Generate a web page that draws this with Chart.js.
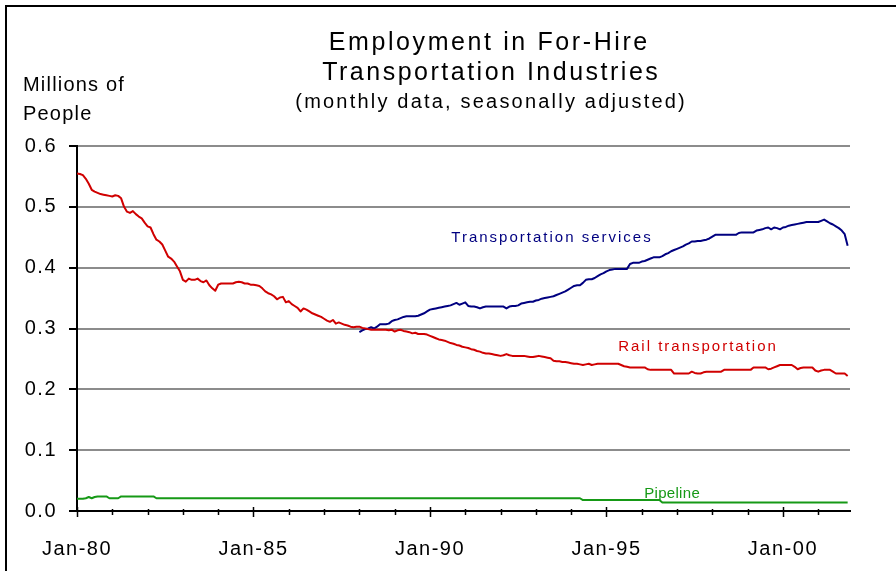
<!DOCTYPE html>
<html>
<head>
<meta charset="utf-8">
<script src="https://cdn.jsdelivr.net/npm/chart.js@4.4.1/dist/chart.umd.min.js"></script>
<style>
  html, body { margin: 0; padding: 0; background: #fff; }
  #wrap { width: 896px; height: 571px; position: relative; }
</style>
</head>
<body>
<div id="wrap"><canvas id="employmentChart" width="896" height="571"></canvas></div>
<script>
// Monthly employment, millions of people. Month 0 = Jan-80.
const xTickLabels = ['Jan-80', 'Jan-85', 'Jan-90', 'Jan-95', 'Jan-00'];
const yTickValues = [0, 0.1, 0.2, 0.3, 0.4, 0.5, 0.6];
const seriesNames = ['Transportation services', 'Rail transportation', 'Pipeline'];

const railMonthly = [
    0.555, 0.554, 0.552, 0.546, 0.538, 0.528, 0.525, 0.523, 0.521, 0.520, 0.519, 0.518, // 1980
    0.517, 0.519, 0.518, 0.514, 0.500, 0.492, 0.490, 0.493, 0.488, 0.484, 0.481, 0.474, // 1981
    0.468, 0.466, 0.455, 0.446, 0.443, 0.438, 0.428, 0.418, 0.415, 0.410, 0.402, 0.394, // 1982
    0.380, 0.377, 0.382, 0.380, 0.380, 0.382, 0.378, 0.376, 0.379, 0.371, 0.366, 0.362, // 1983
    0.372, 0.374, 0.374, 0.374, 0.374, 0.374, 0.376, 0.377, 0.376, 0.374, 0.374, 0.372, // 1984
    0.372, 0.371, 0.370, 0.366, 0.361, 0.358, 0.356, 0.353, 0.348, 0.351, 0.352, 0.343, // 1985
    0.345, 0.340, 0.337, 0.334, 0.328, 0.333, 0.331, 0.328, 0.325, 0.323, 0.321, 0.319, // 1986
    0.316, 0.313, 0.311, 0.314, 0.308, 0.310, 0.308, 0.306, 0.305, 0.303, 0.302, 0.303, // 1987
    0.303, 0.301, 0.300, 0.299, 0.298, 0.298, 0.298, 0.298, 0.298, 0.298, 0.297, 0.298, // 1988
    0.295, 0.297, 0.298, 0.296, 0.295, 0.294, 0.292, 0.293, 0.291, 0.291, 0.291, 0.290, // 1989
    0.288, 0.286, 0.284, 0.282, 0.281, 0.280, 0.278, 0.276, 0.275, 0.273, 0.272, 0.270, // 1990
    0.269, 0.268, 0.266, 0.265, 0.263, 0.262, 0.260, 0.259, 0.259, 0.258, 0.257, 0.256, // 1991
    0.255, 0.256, 0.258, 0.256, 0.255, 0.255, 0.255, 0.255, 0.255, 0.254, 0.253, 0.253, // 1992
    0.254, 0.255, 0.254, 0.253, 0.252, 0.251, 0.247, 0.246, 0.246, 0.245, 0.245, 0.244, // 1993
    0.243, 0.242, 0.242, 0.241, 0.240, 0.241, 0.242, 0.240, 0.241, 0.242, 0.242, 0.242, // 1994
    0.242, 0.242, 0.242, 0.242, 0.242, 0.240, 0.238, 0.237, 0.236, 0.236, 0.236, 0.236, // 1995
    0.236, 0.236, 0.233, 0.232, 0.232, 0.232, 0.232, 0.232, 0.232, 0.232, 0.232, 0.226, // 1996
    0.226, 0.226, 0.226, 0.226, 0.226, 0.229, 0.227, 0.226, 0.226, 0.228, 0.229, 0.229, // 1997
    0.229, 0.229, 0.229, 0.229, 0.232, 0.232, 0.232, 0.232, 0.232, 0.232, 0.232, 0.232, // 1998
    0.232, 0.232, 0.236, 0.236, 0.236, 0.236, 0.236, 0.233, 0.234, 0.236, 0.238, 0.240, // 1999
    0.240, 0.240, 0.240, 0.240, 0.237, 0.233, 0.235, 0.236, 0.236, 0.236, 0.236, 0.231, // 2000
    0.229, 0.231, 0.232, 0.232, 0.232, 0.229, 0.226, 0.226, 0.226, 0.226, 0.222         // 2001
];

// Transportation services series begins in Jan-88
const servicesStartMonth = 96;
const servicesMonthly = [
    0.294, 0.297, 0.299, 0.300, 0.302, 0.300, 0.303, 0.307, 0.307, 0.307, 0.308, 0.312, // 1988
    0.314, 0.315, 0.317, 0.319, 0.320, 0.320, 0.320, 0.320, 0.321, 0.323, 0.325, 0.328, // 1989
    0.331, 0.332, 0.333, 0.334, 0.335, 0.336, 0.337, 0.338, 0.340, 0.342, 0.339, 0.341, // 1990
    0.343, 0.337, 0.336, 0.336, 0.335, 0.333, 0.335, 0.336, 0.336, 0.336, 0.336, 0.336, // 1991
    0.336, 0.336, 0.333, 0.336, 0.337, 0.337, 0.338, 0.341, 0.342, 0.343, 0.344, 0.344, // 1992
    0.346, 0.347, 0.349, 0.350, 0.351, 0.352, 0.353, 0.355, 0.357, 0.359, 0.361, 0.364, // 1993
    0.367, 0.370, 0.371, 0.371, 0.375, 0.380, 0.381, 0.381, 0.383, 0.386, 0.389, 0.391, // 1994
    0.394, 0.396, 0.397, 0.398, 0.398, 0.398, 0.398, 0.398, 0.406, 0.408, 0.408, 0.408, // 1995
    0.410, 0.411, 0.413, 0.415, 0.417, 0.417, 0.417, 0.419, 0.422, 0.424, 0.427, 0.429, // 1996
    0.431, 0.433, 0.435, 0.438, 0.440, 0.443, 0.443, 0.444, 0.444, 0.445, 0.446, 0.448, // 1997
    0.451, 0.454, 0.454, 0.454, 0.454, 0.454, 0.454, 0.454, 0.454, 0.457, 0.458, 0.458, // 1998
    0.458, 0.458, 0.458, 0.461, 0.462, 0.463, 0.465, 0.466, 0.463, 0.466, 0.465, 0.463, // 1999
    0.466, 0.467, 0.469, 0.470, 0.471, 0.472, 0.473, 0.474, 0.475, 0.475, 0.475, 0.475, // 2000
    0.475, 0.477, 0.479, 0.476, 0.473, 0.471, 0.468, 0.465, 0.461, 0.455, 0.436         // 2001
];

const pipelineMonthly = [
    0.020, 0.020, 0.020, 0.021, 0.023, 0.021, 0.023, 0.024, 0.024, 0.024, 0.024, 0.021, // 1980
    0.021, 0.021, 0.021, 0.024, 0.024, 0.024, 0.024, 0.024, 0.024, 0.024, 0.024, 0.024, // 1981
    0.024, 0.024, 0.024, 0.021, 0.021, 0.021, 0.021, 0.021, 0.021, 0.021, 0.021, 0.021, // 1982
    0.021, 0.021, 0.021, 0.021, 0.021, 0.021, 0.021, 0.021, 0.021, 0.021, 0.021, 0.021, // 1983
    0.021, 0.021, 0.021, 0.021, 0.021, 0.021, 0.021, 0.021, 0.021, 0.021, 0.021, 0.021, // 1984
    0.021, 0.021, 0.021, 0.021, 0.021, 0.021, 0.021, 0.021, 0.021, 0.021, 0.021, 0.021, // 1985
    0.021, 0.021, 0.021, 0.021, 0.021, 0.021, 0.021, 0.021, 0.021, 0.021, 0.021, 0.021, // 1986
    0.021, 0.021, 0.021, 0.021, 0.021, 0.021, 0.021, 0.021, 0.021, 0.021, 0.021, 0.021, // 1987
    0.021, 0.021, 0.021, 0.021, 0.021, 0.021, 0.021, 0.021, 0.021, 0.021, 0.021, 0.021, // 1988
    0.021, 0.021, 0.021, 0.021, 0.021, 0.021, 0.021, 0.021, 0.021, 0.021, 0.021, 0.021, // 1989
    0.021, 0.021, 0.021, 0.021, 0.021, 0.021, 0.021, 0.021, 0.021, 0.021, 0.021, 0.021, // 1990
    0.021, 0.021, 0.021, 0.021, 0.021, 0.021, 0.021, 0.021, 0.021, 0.021, 0.021, 0.021, // 1991
    0.021, 0.021, 0.021, 0.021, 0.021, 0.021, 0.021, 0.021, 0.021, 0.021, 0.021, 0.021, // 1992
    0.021, 0.021, 0.021, 0.021, 0.021, 0.021, 0.021, 0.021, 0.021, 0.021, 0.021, 0.021, // 1993
    0.021, 0.021, 0.021, 0.021, 0.018, 0.018, 0.018, 0.018, 0.018, 0.018, 0.018, 0.018, // 1994
    0.018, 0.018, 0.018, 0.018, 0.018, 0.018, 0.018, 0.018, 0.018, 0.018, 0.018, 0.018, // 1995
    0.018, 0.018, 0.018, 0.018, 0.018, 0.018, 0.018, 0.014, 0.014, 0.014, 0.014, 0.014, // 1996
    0.014, 0.014, 0.014, 0.014, 0.014, 0.014, 0.014, 0.014, 0.014, 0.014, 0.014, 0.014, // 1997
    0.014, 0.014, 0.014, 0.014, 0.014, 0.014, 0.014, 0.014, 0.014, 0.014, 0.014, 0.014, // 1998
    0.014, 0.014, 0.014, 0.014, 0.014, 0.014, 0.014, 0.014, 0.014, 0.014, 0.014, 0.014, // 1999
    0.014, 0.014, 0.014, 0.014, 0.014, 0.014, 0.014, 0.014, 0.014, 0.014, 0.014, 0.014, // 2000
    0.014, 0.014, 0.014, 0.014, 0.014, 0.014, 0.014, 0.014, 0.014, 0.014, 0.014         // 2001
];

const FONT = "'Liberation Sans', Arial, sans-serif";
const RED = '#d00000';
const NAVY = '#000080';
const GREEN = '#169916';

function toPoints(values, start) {
    return values.map((v, i) => ({ x: start + i, y: v }));
}

function drawText(ctx, text, x, y, size, color, spacing, align) {
    ctx.save();
    ctx.font = size + 'px ' + FONT;
    ctx.fillStyle = color;
    ctx.letterSpacing = spacing + 'px';
    ctx.textBaseline = 'alphabetic';
    let w = ctx.measureText(text).width - spacing;
    let left = align === 'center' ? x - w / 2 : x;
    ctx.textAlign = 'left';
    ctx.fillText(text, left, y);
    ctx.restore();
}

// Frame, titles, series labels and the x axis tick marks
const decorPlugin = {
    id: 'decor',
    beforeDraw(chart) {
        chart.ctx.letterSpacing = '1.5px';
    },
    afterDraw(chart) {
        const ctx = chart.ctx;
        const xs = chart.scales.x;
        const ys = chart.scales.y;

        ctx.save();
        ctx.strokeStyle = '#000';
        ctx.lineWidth = 2;
        ctx.beginPath();
        ctx.moveTo(6, 600);
        ctx.lineTo(6, 6);
        ctx.lineTo(900, 6);
        ctx.stroke();

        // yearly ticks crossing the x axis, longer every five years
        const yAxis = ys.getPixelForValue(0);
        ctx.lineWidth = 1.5;
        for (let m = 0; m <= xs.max; m += 12) {
            const px = Math.round(xs.getPixelForValue(m)) + 0.5;
            const major = m % 60 === 0;
            ctx.beginPath();
            ctx.moveTo(px, yAxis - (major ? 4 : 2));
            ctx.lineTo(px, yAxis + (major ? 6 : 4));
            ctx.stroke();
        }
        ctx.restore();

        drawText(ctx, 'Employment in For-Hire', 488, 50, 25, '#000', 2.6, 'center');
        drawText(ctx, 'Transportation Industries', 490, 80, 25, '#000', 2.5, 'center');
        drawText(ctx, '(monthly data, seasonally adjusted)', 490, 108, 20, '#000', 2.2, 'center');
        drawText(ctx, 'Millions of', 23, 91, 20, '#000', 1.2, 'left');
        drawText(ctx, 'People', 23, 120, 20, '#000', 1.2, 'left');

        drawText(ctx, seriesNames[0], 551, 242, 15, NAVY, 2, 'center');
        drawText(ctx, seriesNames[1], 697, 351, 15, RED, 2, 'center');
        drawText(ctx, seriesNames[2], 672, 498, 15, GREEN, 0.3, 'center');
    }
};

const ctx = document.getElementById('employmentChart').getContext('2d');

new Chart(ctx, {
    type: 'line',
    data: {
        datasets: [
            {
                label: seriesNames[1],
                data: toPoints(railMonthly, 0),
                borderColor: RED,
                borderWidth: 2
            },
            {
                label: seriesNames[0],
                data: toPoints(servicesMonthly, servicesStartMonth),
                borderColor: NAVY,
                borderWidth: 2
            },
            {
                label: seriesNames[2],
                data: toPoints(pipelineMonthly, 0),
                borderColor: GREEN,
                borderWidth: 2
            }
        ]
    },
    options: {
        responsive: false,
        animation: false,
        layout: { padding: { left: 0, top: 146, right: 46, bottom: 0 } },
        elements: {
            point: { radius: 0 },
            line: { tension: 0, borderJoinStyle: 'round' }
        },
        plugins: {
            legend: { display: false },
            tooltip: { enabled: false },
            title: { display: false }
        },
        scales: {
            x: {
                type: 'linear',
                min: 0,
                max: 262.8,
                afterFit: (scale) => { scale.height = 60; },
                afterBuildTicks: (scale) => {
                    scale.ticks = xTickLabels.map((_, i) => ({ value: i * 60 }));
                },
                grid: { display: false },
                border: { color: '#000', width: 2 },
                ticks: {
                    autoSkip: false,
                    maxRotation: 0,
                    padding: 18,
                    color: '#000',
                    font: { family: FONT, size: 20 },
                    callback: (v) => xTickLabels[Math.round(v / 60)]
                }
            },
            y: {
                min: 0,
                max: 0.6,
                afterFit: (scale) => { scale.width = 77; },
                afterBuildTicks: (scale) => {
                    scale.ticks = yTickValues.map(v => ({ value: v }));
                },
                grid: {
                    color: '#8c8c8c',
                    lineWidth: 2,
                    tickColor: '#000',
                    tickLength: 8
                },
                border: { color: '#000', width: 2 },
                ticks: {
                    padding: 12,
                    color: '#000',
                    font: { family: FONT, size: 20 },
                    callback: (v) => v.toFixed(1)
                }
            }
        }
    },
    plugins: [decorPlugin]
});
</script>
</body>
</html>
